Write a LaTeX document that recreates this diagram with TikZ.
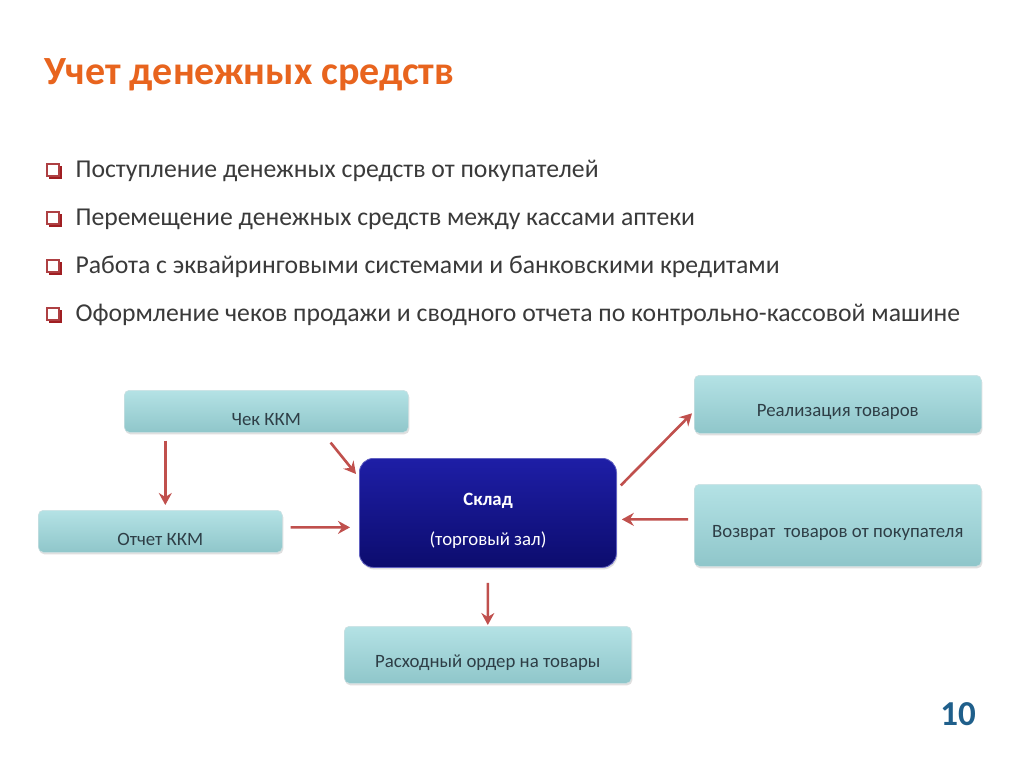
\documentclass[tikz,border=0pt]{standalone}
\usepackage{fontspec}
\setmainfont{Carlito}
\usetikzlibrary{arrows.meta,shadows,calc}
\definecolor{ttl}{HTML}{E8641E}
\definecolor{txt}{HTML}{3A3A3A}
\definecolor{btxt}{HTML}{2E3E46}
\definecolor{arr}{HTML}{C0504D}
\definecolor{bred}{HTML}{A01E22}
\definecolor{tealtop}{HTML}{B4E2E5}
\definecolor{tealbot}{HTML}{8FC6CA}
\definecolor{navytop}{HTML}{1E1EA6}
\definecolor{navybot}{HTML}{0C0C6E}
\definecolor{pnum}{HTML}{1F5F8B}
\begin{document}
\begin{tikzpicture}[x=1pt,y=-1pt,
  tbox/.style={draw=tealbot!90!black!40!white, line width=0.6pt, rounded corners=5pt, top color=tealtop, bottom color=tealbot, anchor=north west, inner sep=0pt, drop shadow={shadow xshift=1pt,shadow yshift=-2pt,opacity=0.25}},
  tlab/.style={font=\fontsize{18.8}{22}\selectfont, text=btxt},
  bullettxt/.style={font=\fontsize{25.7}{30}\selectfont, text=txt, anchor=west},
  con/.style={draw=arr, line width=2.6pt, -{Stealth[length=12pt,width=13pt,inset=4pt]}},
]
\useasboundingbox (0,0) rectangle (1024,767);
\fill[white] (0,0) rectangle (1024,767);

\node[font=\fontsize{40}{44}\bfseries\selectfont, text=ttl, anchor=west] (title) at (41,75) {Учет денежных средств};

\foreach \yy/\tx [count=\i] in {171/Поступление денежных средств от покупателей,219/Перемещение денежных средств между кассами аптеки,267/Работа с эквайринговыми системами и банковскими кредитами,315/Оформление чеков продажи и сводного отчета по контрольно-кассовой машине}{
  \fill[bred] (49,\yy-5) rectangle (62,\yy+8);
  \filldraw[fill=white, draw=bred!85!white, line width=1.2pt] (47,\yy-7) rectangle (59,\yy+5);
  \node[bullettxt] (b\i) at (72,\yy) {\tx};
}

\node[tbox, minimum width=284pt, minimum height=42pt] (chek) at (124,390) {};
\node[tlab] (chekl) at ($(chek.center)+(0,8)$) {Чек ККМ};
\node[tbox, minimum width=244pt, minimum height=42pt] (otch) at (38,510) {};
\node[tlab] (otchl) at ($(otch.center)+(0,8)$) {Отчет ККМ};
\node[tbox, minimum width=287pt, minimum height=58pt] (real) at (694,375) {};
\node[tlab] (reall) at ($(real.center)+(0,8)$) {Реализация товаров};
\node[tbox, minimum width=287pt, minimum height=82pt] (vozv) at (694,484) {};
\node[tlab] (vozvl) at ($(vozv.center)+(0,8)$) {Возврат\ \ товаров от покупателя};
\node[tbox, minimum width=287pt, minimum height=57pt] (rash) at (344,626) {};
\node[tlab] (rashl) at ($(rash.center)+(0,8)$) {Расходный ордер на товары};

\node[draw=navytop!70!white, line width=0.8pt, rounded corners=14pt, top color=navytop, bottom color=navybot, anchor=north west, minimum width=257pt, minimum height=109pt, inner sep=0pt, drop shadow={shadow xshift=1pt,shadow yshift=-2pt,opacity=0.25}] (sklad) at (359,458) {};
\node[font=\fontsize{18.8}{22}\bfseries\selectfont, text=white] (skl1) at (488,501) {Склад};
\node[font=\fontsize{18.8}{22}\selectfont, text=white] (skl2) at (488,540) {(торговый зал)};

\draw[con] ($(chek.south)+(-101,8)$) -- ($(chek.south |- otch.north)+(-101,-5)$);
\draw[con] ($(chek.south east)+(-78,10)$) -- ($(sklad.north west)+(-3,16)$);
\draw[con] ($(otch.east)+(8,-4)$) -- ($(sklad.west)+(-9,14.5)$);
\draw[con] ($(sklad.east)+(4,-27.5)$) -- ($(real.west)+(-2,9)$);
\draw[con] ($(vozv.west)+(-6,-6)$) -- ($(sklad.east)+(5,6.5)$);
\draw[con] ($(sklad.south)+(0,15)$) -- ($(rash.north)+(0,-1)$);

\node[font=\fontsize{35}{40}\bfseries\selectfont, text=pnum] (pg) at (958,714) {10};
\end{tikzpicture}
\end{document}
